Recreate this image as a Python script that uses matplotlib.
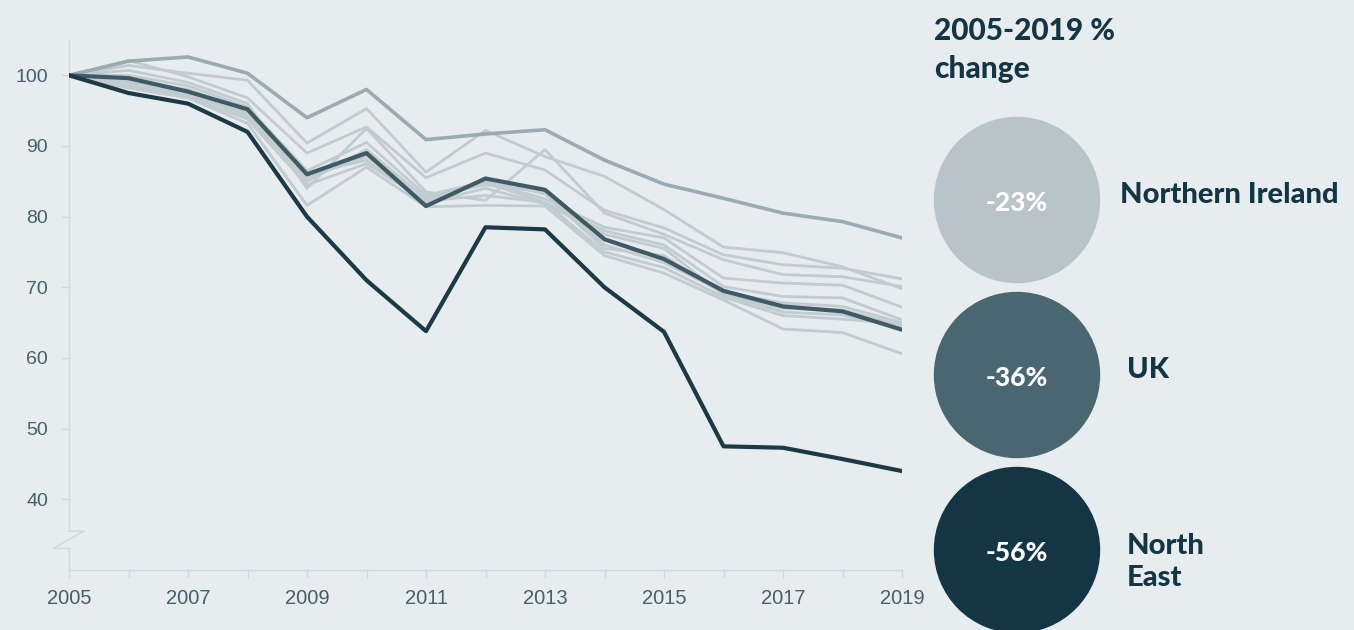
import matplotlib
matplotlib.use("Agg")
import matplotlib.pyplot as plt
from matplotlib.patches import Circle

years = list(range(2005, 2020))

north_east = [100, 97.5, 96.0, 92.0, 80.0, 71.0, 63.8, 78.5, 78.2, 70.0, 63.7, 47.5, 47.3, 45.7, 44.0]
uk = [100, 99.6, 97.7, 95.2, 86.0, 89.0, 81.5, 85.4, 83.8, 76.8, 74.0, 69.5, 67.3, 66.6, 64.0]
northern_ireland = [100, 102.0, 102.6, 100.3, 94.0, 98.0, 90.9, 91.7, 92.3, 88.0, 84.6, 82.6, 80.5, 79.3, 77.0]

other_regions = [
    [100, 101.4, 100.3, 99.3, 90.4, 95.3, 86.3, 92.2, 88.5, 85.7, 81.0, 75.7, 74.9, 72.9, 69.8],
    [100, 102.1, 99.8, 96.8, 89.0, 92.7, 85.5, 89.0, 86.6, 80.9, 78.4, 74.6, 73.2, 72.7, 71.2],
    [100, 100.7, 99.0, 96.0, 84.0, 92.5, 83.5, 82.3, 89.5, 80.5, 77.5, 73.9, 71.8, 71.5, 70.1],
    [100, 100.0, 98.5, 95.5, 86.5, 90.5, 83.0, 85.0, 82.5, 78.5, 77.0, 71.3, 70.6, 70.3, 67.2],
    [100, 99.2, 98.0, 94.8, 85.0, 89.5, 82.5, 84.8, 82.0, 78.0, 76.0, 70.1, 68.7, 68.5, 65.4],
    [100, 98.9, 97.5, 94.4, 86.0, 88.0, 82.0, 84.0, 81.8, 77.5, 75.5, 68.9, 66.5, 66.1, 64.3],
    [100, 98.2, 96.8, 93.2, 81.6, 87.0, 81.4, 81.6, 81.5, 74.5, 72.0, 68.2, 64.1, 63.6, 60.6],
    [100, 99.5, 97.8, 94.0, 85.5, 88.5, 82.8, 84.5, 83.5, 76.0, 73.5, 69.3, 67.8, 67.3, 65.0],
    [100, 98.5, 97.0, 93.8, 84.5, 87.5, 82.2, 83.0, 82.0, 75.0, 72.8, 68.6, 66.0, 65.5, 64.8],
    [100, 99.0, 97.2, 94.6, 85.8, 88.8, 82.0, 85.2, 83.2, 75.5, 74.5, 69.0, 67.0, 66.8, 64.6],
]

yticks = [40, 50, 60, 70, 80, 90, 100]
xtick_labels = [2005, 2007, 2009, 2011, 2013, 2015, 2017, 2019]

legend_names = ["Northern Ireland", "UK", "North\nEast"]
legend_changes = ["-23%", "-36%", "-56%"]
legend_colors = ["#b8c4c8", "#4a6670", "#143644"]

BG = "#e7ecef"
TEXT_DARK = "#143644"
TICK_TEXT = "#465f69"
AXIS_COL = "#cfd8dc"
BOLD_FONT = ["Lato", "DejaVu Sans"]

fig = plt.figure(figsize=(13.54, 6.30), dpi=100)
fig.patch.set_facecolor(BG)

ax = fig.add_axes([69 / 1354, 60 / 630, (902 - 69) / 1354, 530 / 630])
ax.set_facecolor(BG)

for series in other_regions:
    ax.plot(years, series, color="#c1ccd1", lw=2.0, solid_joinstyle="round", zorder=2)
ax.plot(years, northern_ireland, color="#9aabb1", lw=2.6, zorder=3)
ax.plot(years, uk, color="#3f5a64", lw=3.0, zorder=4)
ax.plot(years, north_east, color="#1b3a45", lw=3.0, zorder=5)

ax.set_xlim(2005, 2019)
ax.set_ylim(30, 105)

for s in ["top", "right", "left"]:
    ax.spines[s].set_visible(False)
ax.spines["bottom"].set_color(AXIS_COL)
ax.spines["bottom"].set_linewidth(1.0)

# broken left spine
yt = ax.get_yaxis_transform()
ax.plot([0, 0], [35.5, 105], color=AXIS_COL, lw=1.0, transform=yt, clip_on=False)
ax.plot([0, 0], [30, 33.05], color=AXIS_COL, lw=1.0, transform=yt, clip_on=False)
ax.plot([0, 0.018, -0.019, 0], [35.5, 35.5, 33.05, 33.05], color=AXIS_COL, lw=1.0,
        transform=yt, clip_on=False)

ax.set_yticks(yticks)
ax.set_yticklabels([str(v) for v in yticks])
ax.set_xticks(xtick_labels)
ax.set_xticklabels([str(v) for v in xtick_labels])
ax.set_xticks(years, minor=True)
ax.tick_params(axis="both", which="both", color=AXIS_COL, length=6, width=1.0,
               labelcolor=TICK_TEXT)
ax.tick_params(axis="y", pad=9, labelsize=14)
ax.tick_params(axis="x", pad=8, labelsize=14.5)
for lab in ax.get_xticklabels() + ax.get_yticklabels():
    lab.set_family(["Liberation Sans", "DejaVu Sans"])

# right panel overlay in pixel coordinates
ov = fig.add_axes([0, 0, 1, 1])
ov.set_xlim(0, 1354)
ov.set_ylim(630, 0)
ov.axis("off")
ov.patch.set_alpha(0)

ov.text(934, 50, "2005-2019 %\nchange", fontsize=21.5, fontweight="black", color=TEXT_DARK,
        family=BOLD_FONT, va="center", ha="left", linespacing=1.42)

centers_y = [200, 375, 550]
label_x = [1120, 1127, 1127]
label_dy = [-5, -5, 12]
for cy, name, chg, col, lx, dy in zip(centers_y, legend_names, legend_changes,
                                      legend_colors, label_x, label_dy):
    ov.add_patch(Circle((1017, cy), 82.5, color=col, zorder=2))
    ov.text(1017, cy + 3, chg, fontsize=19, fontweight="black", color="white",
            family=BOLD_FONT, ha="center", va="center", zorder=3)
    ov.text(lx, cy + dy, name, fontsize=21, fontweight="black", color=TEXT_DARK,
            family=BOLD_FONT, ha="left", va="center", linespacing=1.32)

fig.savefig("out.png", dpi=100, facecolor=BG)
